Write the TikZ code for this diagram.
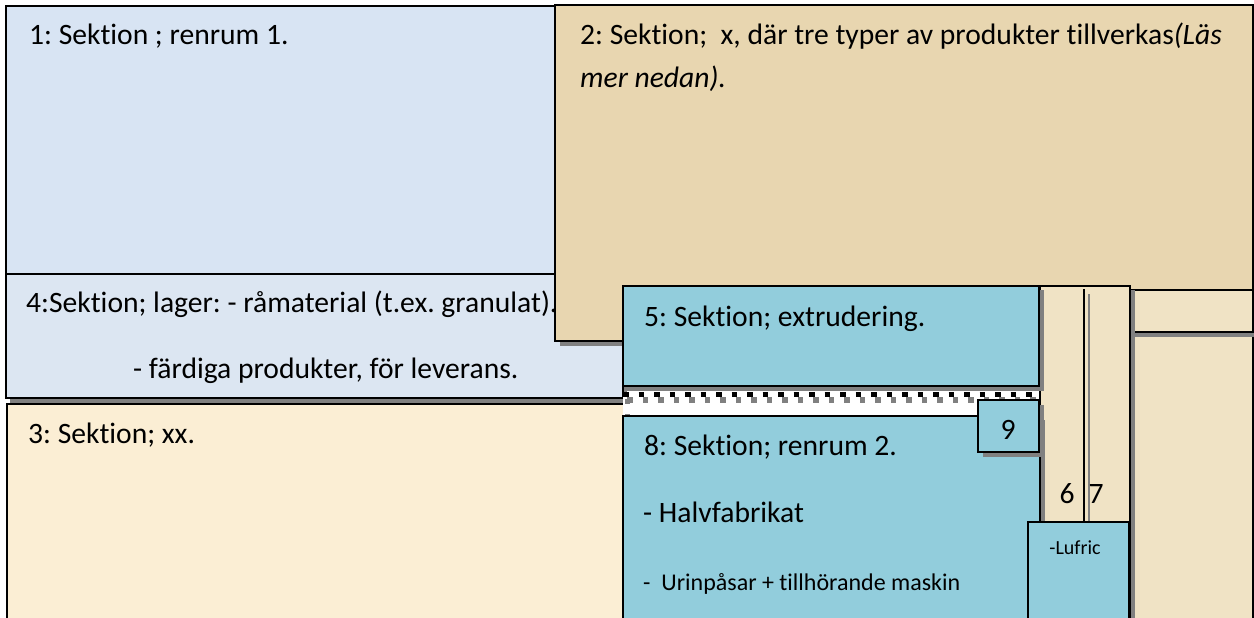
\documentclass[tikz,border=0pt]{standalone}
\usepackage{fontspec}
\setmainfont{Carlito}[Ligatures=NoCommon]
\definecolor{paleblue}{RGB}{216,228,243}
\definecolor{storeblue}{RGB}{220,230,242}
\definecolor{tanpaper}{RGB}{232,214,176}
\definecolor{creampaper}{RGB}{251,238,212}
\definecolor{beigepaper}{RGB}{240,227,197}
\definecolor{roomblue}{RGB}{146,205,220}
\definecolor{shadowgray}{RGB}{128,128,128}
\frenchspacing
\begin{document}
\begin{tikzpicture}[x=1pt,y=-1pt,
  wall/.style={draw=black,line width=1.8pt},
  lbl/.style={anchor=base west,inner sep=0pt,font=\fontsize{29.6}{35}\selectfont},
  small/.style={anchor=base west,inner sep=0pt,font=\fontsize{24}{29}\selectfont},
  num/.style={anchor=base,inner sep=0pt,font=\fontsize{29.6}{35}\selectfont},
  tiny/.style={anchor=base,inner sep=0pt,font=\fontsize{20}{24}\selectfont}]
\useasboundingbox (0,0) rectangle (1254,618);
\clip (0,0) rectangle (1254,618);
\fill[white] (0,0) rectangle (1254,618);

% section 3
\filldraw[wall,fill=creampaper] (7,404) rectangle (640,640);
% section 1
\filldraw[wall,fill=paleblue] (6,6) rectangle (556,274);
% section 4 (store)
\fill[shadowgray] (10,278) rectangle (627,403);
\filldraw[wall,fill=storeblue] (6,274) rectangle (623,398);
% section 2
\fill[shadowgray] (560,10) rectangle (1258,346);
\filldraw[wall,fill=tanpaper] (555,5) rectangle (1253,341);
% right-hand block and strip
\filldraw[wall,fill=beigepaper] (1131,332) rectangle (1253,640);
\fill[shadowgray] (1135,294) rectangle (1258,337);
\filldraw[wall,fill=beigepaper] (1131,290) rectangle (1253,332);
% shaft 6/7
\fill[shadowgray] (1044,290) rectangle (1135,640);
\filldraw[wall,fill=beigepaper] (1040,286) rectangle (1130,640);
\draw[shadowgray,line width=1.4pt] (1089,294) -- (1089,522);
\draw[black,line width=1.4pt] (1084,289) -- (1084,522);
% section 5
\fill[shadowgray] (627,290) rectangle (1044,391);
\filldraw[wall,fill=roomblue] (623,286) rectangle (1039,386);
% corridor strip with square-dotted edge
\fill[white] (623,392) rectangle (1039,416);
\draw[shadowgray,line width=5.5pt,dash pattern=on 5.5pt off 10pt] (627,400) -- (1043,400);
\draw[shadowgray,line width=5pt,dash pattern=on 5pt off 10pt] (627.5,399) -- (627.5,416);
\draw[black,line width=5pt,dash pattern=on 5.5pt off 10pt] (623,394.5) -- (1039,394.5);
% section 8
\fill[shadowgray] (627,420) rectangle (1045,640);
\filldraw[wall,fill=roomblue] (623,416) rectangle (1040,640);
% box 9
\fill[shadowgray] (983,405) rectangle (1044,457);
\filldraw[wall,fill=roomblue] (978,400) rectangle (1039,452);
% Lufric box
\filldraw[wall,fill=roomblue] (1028,522) rectangle (1129,640);

% labels
\node[lbl] (t1) at (29,45) {1: Sektion ; renrum 1.};
\node[lbl] (t2a) at (580,45) {2: Sektion;\ \ x, där tre typer av produkter tillverkas\textit{(Läs}};
\node[lbl] (t2b) at (580,88) {\textit{mer nedan).}};
\node[lbl] (t4a) at (26,312) {4:Sektion; lager: - råmaterial (t.ex. granulat).};
\node[lbl] (t4b) at (133,378) {- färdiga produkter, för leverans.};
\node[lbl] (t3) at (28,443) {3: Sektion; xx.};
\node[lbl] (t5) at (644,326) {5: Sektion; extrudering.};
\node[lbl] (t8) at (644,455) {8: Sektion; renrum 2.};
\node[lbl] (t8b) at (643,522) {- Halvfabrikat};
\node[small] (t8c) at (643,590) {-\ \ Urinpåsar + tillhörande maskin};
\node[num] (t9) at (1008,439) {9};
\node[num] (t6) at (1067,503) {6};
\node[num] (t7) at (1096,503) {7};
\node[tiny] (tl) at (1075,554) {-Lufric};
\end{tikzpicture}
\end{document}
